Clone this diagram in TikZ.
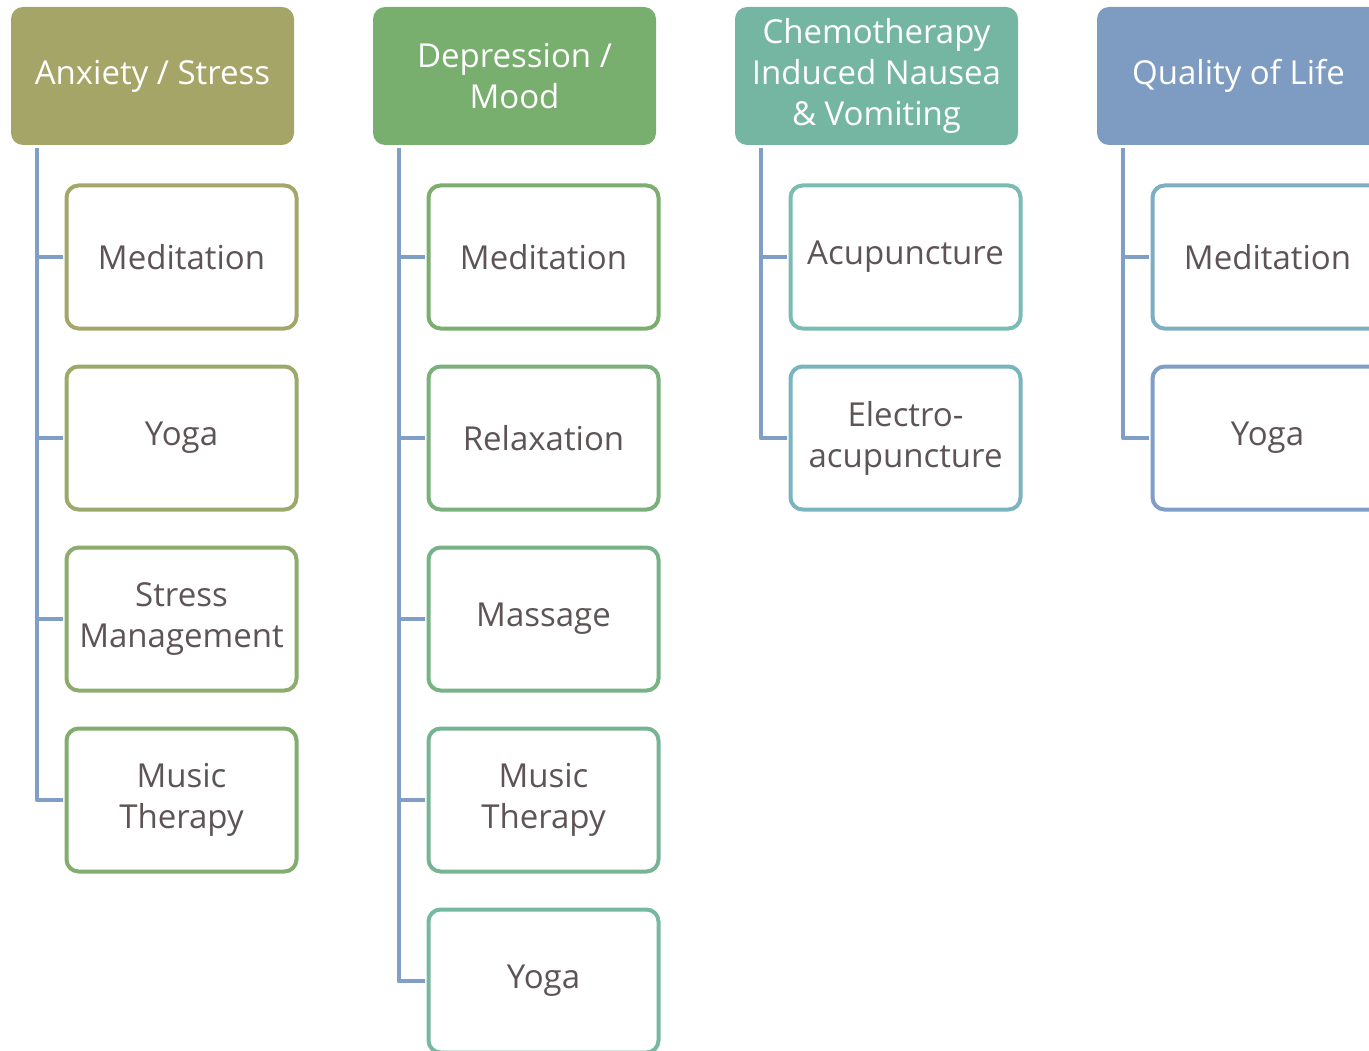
\documentclass[tikz,border=0pt]{standalone}
\usepackage{fontspec}
\setmainfont{Open Sans}
\usetikzlibrary{positioning}
\definecolor{headA}{HTML}{A5A567}
\definecolor{headB}{HTML}{78AE6E}
\definecolor{headC}{HTML}{75B6A2}
\definecolor{headD}{HTML}{7E9CC2}
\definecolor{linkc}{HTML}{7F9FC6}
\definecolor{txtc}{HTML}{5E5456}
\definecolor{bA1}{HTML}{A5A76A}
\definecolor{bA2}{HTML}{9AAA6B}
\definecolor{bA3}{HTML}{8DAC6D}
\definecolor{bA4}{HTML}{82AD6E}
\definecolor{bB1}{HTML}{7BAE6F}
\definecolor{bB2}{HTML}{79B07B}
\definecolor{bB3}{HTML}{78B287}
\definecolor{bB4}{HTML}{77B494}
\definecolor{bB5}{HTML}{76B8A2}
\definecolor{bC1}{HTML}{7ABBB3}
\definecolor{bC2}{HTML}{7AB5BF}
\definecolor{bD1}{HTML}{7DAEC3}
\definecolor{bD2}{HTML}{7F9FC8}
\tikzset{
  head/.style={rounded corners=12pt, text=white, align=center, inner sep=2pt,
    minimum width=283pt, minimum height=138pt, font=\fontsize{33}{41}\selectfont},
  item/.style={rounded corners=12pt, line width=4pt, fill=white, text=txtc, align=center,
    inner sep=2pt, minimum width=230pt, minimum height=143pt, font=\fontsize{33}{41}\selectfont},
  link/.style={linkc, line width=4pt, shorten >=2pt}
}
\begin{document}
\begin{tikzpicture}[x=1pt,y=-1pt, line join=round]
 \def\colstep{362} \def\rowstep{181}
 \useasboundingbox (0,0) rectangle (1369,1051);
 \clip (0,0) rectangle (1369,1051);
 % category headers
 \foreach \i/\name/\fillc in {1/{Anxiety / Stress}/headA, 2/{Depression /\\ Mood}/headB,
   3/{Chemotherapy\\Induced Nausea\\\& Vomiting}/headC, 4/{Quality of Life}/headD}
   \node[head, fill=\fillc] (h\i) at ({152.5+\colstep*(\i-1)},76) {\name};
 % interventions
 \foreach \i/\j/\txt/\col in {1/1/Meditation/bA1, 1/2/Yoga/bA2, 1/3/{Stress\\Management}/bA3,
   1/4/{Music\\Therapy}/bA4,
   2/1/Meditation/bB1, 2/2/Relaxation/bB2, 2/3/Massage/bB3, 2/4/{Music\\Therapy}/bB4, 2/5/Yoga/bB5,
   3/1/Acupuncture/bC1, 3/2/{Electro-\\acupuncture}/bC2,
   4/1/Meditation/bD1, 4/2/Yoga/bD2}
   \node[item, draw=\col] (c\i-\j) at ({181.5+\colstep*(\i-1)},{257+\rowstep*(\j-1)}) {\txt};
 % connectors
 \foreach \i/\n in {1/4, 2/5, 3/2, 4/2} {
   \coordinate (t\i) at ([xshift=26pt,yshift=-3pt]h\i.south west);
   \foreach \j in {1,...,\n}
     \draw[link] (t\i) |- (c\i-\j.west);
 }
\end{tikzpicture}
\end{document}
